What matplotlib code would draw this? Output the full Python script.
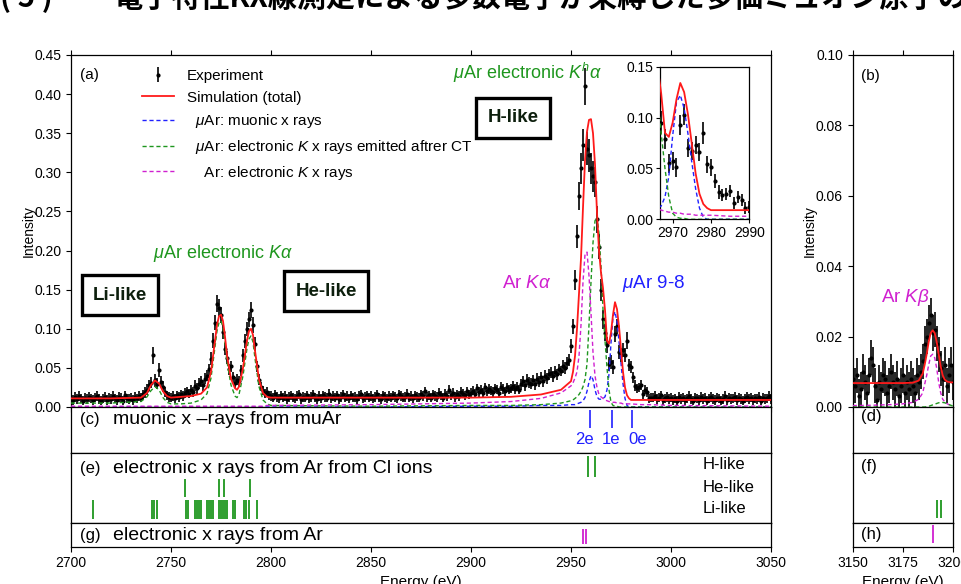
import numpy as np
import matplotlib
matplotlib.use("Agg")
import matplotlib.pyplot as plt

plt.rcParams['font.family'] = ['Liberation Sans', 'DejaVu Sans']
plt.rcParams['mathtext.fontset'] = 'custom'
plt.rcParams['mathtext.rm'] = 'Liberation Sans'
plt.rcParams['mathtext.it'] = 'Liberation Sans:italic'
plt.rcParams['mathtext.bf'] = 'Liberation Sans:bold'
plt.rcParams['axes.linewidth'] = 0.9

W, H = 962, 584
RED, BLUE, GREEN, MAG = '#ff1a1a', '#2020ff', '#1e961e', '#d020d0'

# ---- (a) measured spectrum, 1 eV bins from 2700 eV, intensity in 1e-3 ----
exp_a = [
    12, 9, 13, 10, 14, 11, 8, 12, 10, 13,
    11, 9, 12, 14, 10, 8, 11, 13, 9, 12,
    10, 14, 11, 9, 13, 12, 8, 15, 11, 10,
    12, 9, 13, 11, 14, 12, 16, 19, 22, 28,
    31, 66, 34, 30, 47, 32, 26, 19, 15, 13,
    12, 14, 11, 15, 13, 16, 14, 18, 20, 17,
    22, 19, 27, 24, 30, 33, 28, 36, 40, 48,
    62, 85, 108, 132, 127, 118, 96, 74, 63, 48,
    52, 38, 31, 35, 33, 47, 66, 84, 100, 112,
    124, 105, 80, 52, 35, 26, 21, 17, 19, 15,
    14, 12, 16, 13, 11, 15, 12, 14, 10, 13,
    15, 12, 11, 14, 16, 10, 13, 12, 15, 11,
    13, 16, 12, 10, 14, 11, 15, 13, 12, 17,
    11, 14, 12, 15, 10, 13, 16, 12, 14, 11,
    15, 12, 13, 10, 14, 16, 11, 13, 15, 12,
    14, 11, 13, 16, 12, 10, 15, 13, 11, 14,
    12, 15, 13, 11, 16, 14, 12, 13, 17, 12,
    14, 11, 15, 13, 12, 16, 14, 20, 13, 15,
    12, 16, 14, 13, 18, 15, 12, 17, 14, 22,
    15, 18, 13, 16, 14, 19, 17, 15, 20, 16,
    18, 21, 17, 24, 19, 22, 18, 25, 20, 23,
    21, 19, 24, 22, 18, 26, 23, 20, 25, 22,
    24, 27, 23, 26, 22, 29, 33, 28, 35, 31,
    30, 34, 29, 36, 32, 38, 33, 40, 37, 42,
    44, 39, 45, 42, 48, 46, 52, 50, 56, 60,
    78, 103, 162, 218, 270, 305, 335, 410, 330, 322,
    305, 295, 288, 240, 205, 150, 112, 95, 79, 55,
    57, 51, 93, 103, 70, 67, 73, 66, 85, 54,
    51, 38, 27, 24, 25, 28, 16, 22, 19, 11,
    12, 12, 14, 10, 12, 15, 9, 11, 13, 10,
    12, 9, 11, 8, 13, 10, 12, 9, 11, 14,
    10, 8, 12, 11, 9, 13, 10, 12, 8, 11,
    13, 10, 9, 12, 11, 8, 10, 14, 9, 12,
    10, 11, 13, 9, 12, 10, 8, 11, 13, 10,
    12, 9, 11, 10, 13, 8, 12, 10, 11, 14,
    10,
]
err_a = [
    6, 6, 6, 6, 6, 6, 6, 6, 6, 6,
    6, 6, 6, 6, 6, 6, 6, 6, 6, 6,
    6, 6, 6, 6, 6, 6, 6, 6, 6, 6,
    6, 6, 6, 6, 6, 6, 6, 7, 7, 7,
    7, 11, 8, 7, 9, 7, 7, 6, 6, 6,
    6, 6, 6, 6, 6, 6, 6, 6, 6, 6,
    6, 6, 7, 7, 7, 7, 7, 7, 7, 7,
    8, 9, 10, 11, 11, 10, 9, 8, 8, 7,
    7, 7, 7, 7, 7, 7, 8, 9, 9, 10,
    10, 10, 9, 7, 7, 6, 6, 6, 6, 6,
    6, 6, 6, 6, 6, 6, 6, 6, 6, 6,
    6, 6, 6, 6, 6, 6, 6, 6, 6, 6,
    6, 6, 6, 6, 6, 6, 6, 6, 6, 6,
    6, 6, 6, 6, 6, 6, 6, 6, 6, 6,
    6, 6, 6, 6, 6, 6, 6, 6, 6, 6,
    6, 6, 6, 6, 6, 6, 6, 6, 6, 6,
    6, 6, 6, 6, 6, 6, 6, 6, 6, 6,
    6, 6, 6, 6, 6, 6, 6, 6, 6, 6,
    6, 6, 6, 6, 6, 6, 6, 6, 6, 6,
    6, 6, 6, 6, 6, 6, 6, 6, 6, 6,
    6, 6, 6, 6, 6, 6, 6, 6, 6, 6,
    6, 6, 6, 6, 6, 6, 6, 6, 6, 6,
    6, 6, 6, 6, 6, 7, 7, 7, 7, 7,
    7, 7, 7, 7, 7, 7, 7, 7, 7, 7,
    7, 7, 7, 7, 7, 7, 8, 8, 8, 8,
    9, 10, 13, 15, 18, 20, 21, 24, 21, 21,
    20, 20, 19, 17, 16, 14, 12, 11, 10, 9,
    9, 9, 10, 10, 9, 9, 9, 9, 11, 8,
    8, 7, 7, 6, 6, 6, 6, 6, 6, 6,
    6, 6, 6, 6, 6, 6, 6, 6, 6, 6,
    6, 6, 6, 6, 6, 6, 6, 6, 6, 6,
    6, 6, 6, 6, 6, 6, 6, 6, 6, 6,
    6, 6, 6, 6, 6, 6, 6, 6, 6, 6,
    6, 6, 6, 6, 6, 6, 6, 6, 6, 6,
    6, 6, 6, 6, 6, 6, 6, 6, 6, 6,
    6,
]
energy_a = np.arange(2700, 2700 + len(exp_a))

# ---- (a) simulated curves, intensity in 1e-3 ----
curve_e = [2700, 2720, 2735, 2738, 2740, 2742, 2744, 2746, 2748, 2750,
           2755, 2760, 2765, 2768, 2770, 2772, 2773, 2774, 2775, 2776,
           2777, 2778, 2780, 2782, 2783, 2784, 2786, 2788, 2789, 2790,
           2791, 2792, 2794, 2796, 2798, 2800, 2850, 2900, 2920, 2935,
           2945, 2950, 2951, 2952, 2953, 2954, 2955, 2956, 2957, 2958,
           2959, 2960, 2961, 2962, 2963, 2964, 2965, 2966, 2967, 2968,
           2969, 2970, 2971, 2972, 2973, 2974, 2975, 2976, 2977, 2978,
           2979, 2980, 2985, 2990, 3000, 3050]
sim_total = [11, 11, 12, 18, 28, 34, 30, 20, 14, 12,
             13, 14, 17, 25, 45, 85, 105, 116, 118, 110,
             90, 66, 36, 24, 22, 26, 50, 85, 97, 100,
             92, 72, 35, 18, 13, 12, 12, 12, 13, 16,
             22, 33, 45, 65, 100, 145, 190, 255, 315, 352,
             367, 368, 350, 310, 248, 200, 172, 152, 124, 85,
             81, 95, 118, 134, 125, 103, 74, 45, 25, 15,
             11, 9, 9, 9, 9, 9]
sim_muonic = [0, 0, 0, 0, 0, 0, 0, 0, 0, 0,
              0, 0, 0, 0, 0, 0, 0, 0, 0, 0,
              0, 0, 0, 0, 0, 0, 0, 0, 0, 0,
              0, 0, 0, 0, 0, 0, 0, 1, 1, 2,
              2, 3, 3, 3, 4, 5, 6, 8, 12, 20,
              32, 40, 35, 22, 13, 10, 10, 11, 13, 22,
              42, 82, 115, 122, 109, 84, 56, 30, 11, 2,
              0, 0, 0, 0, 0, 0]
sim_ct = [5, 5, 7, 13, 21, 26, 22, 12, 6, 4,
          4, 5, 9, 17, 37, 77, 97, 108, 110, 102,
          82, 58, 28, 14, 12, 16, 40, 75, 87, 91,
          83, 62, 26, 9, 4, 2, 1, 2, 2, 3,
          5, 8, 9, 11, 13, 16, 20, 26, 35, 55,
          105, 160, 210, 238, 243, 222, 180, 125, 85, 50,
          22, 6, 2, 1, 1, 0, 0, 0, 0, 0,
          0, 0, 0, 0, 0, 0]
sim_ar = [1, 1, 1, 1, 1, 1, 1, 1, 1, 1,
          1, 1, 1, 1, 1, 1, 1, 1, 1, 1,
          1, 1, 1, 1, 1, 1, 1, 1, 1, 1,
          1, 1, 1, 1, 2, 2, 3, 5, 7, 11,
          18, 27, 31, 37, 45, 65, 105, 160, 195, 198,
          168, 120, 70, 40, 25, 16, 13, 11, 9, 8,
          7, 7, 6, 6, 5, 5, 5, 4, 4, 4,
          4, 4, 3, 3, 2, 1]

# ---- (b) measured spectrum, 1 eV bins from 3150 eV, intensity in 1e-3 ----
exp_b = [8, 6, 9, 3, 5, 10, 7, 4, 9, 14,
         12, 6, 2, 7, 5, 9, 8, 4, 6, 10,
         7, 5, 8, 3, 6, 9, 4, 7, 5, 8,
         6, 4, 9, 7, 10, 13, 18, 20, 24, 26,
         21, 22, 18, 15, 11, 8, 12, 6, 9, 12,
         7]
err_b = [5, 5, 5, 5, 5, 5, 5, 5, 5, 5,
         5, 5, 5, 5, 5, 5, 5, 5, 5, 5,
         5, 5, 5, 5, 5, 5, 5, 5, 5, 5,
         5, 5, 5, 5, 5, 5, 5, 5, 5, 5,
         5, 5, 5, 5, 5, 5, 5, 5, 5, 5,
         5]
energy_b = np.arange(3150, 3150 + len(exp_b))

curve_b_e = [3150, 3160, 3170, 3175, 3180, 3183, 3185, 3186, 3187, 3188,
             3189, 3190, 3191, 3192, 3193, 3194, 3195, 3196, 3197, 3198, 3199, 3200]
sim_b_total = [6.8, 6.8, 6.8, 6.8, 6.9, 7.5, 9.5, 12, 15, 18.5,
               21, 21.8, 21, 18.5, 15, 11.5, 9, 7.8, 7.3, 7.1, 7.0, 7.0]
sim_b_ar = [0.4, 0.5, 0.7, 0.9, 1.3, 2.2, 4, 6.5, 9, 12,
            14.5, 15, 14, 11, 7, 4, 2.2, 1.5, 1, 0.7, 0.6, 0.5]
sim_b_ct = [0, 0, 0, 0, 0, 0, 0, 0, 0.1, 0.2,
            0.4, 0.6, 0.8, 1.0, 1.2, 1.3, 1.3, 1.2, 1.0, 0.7, 0.5, 0.3]

# ---- transition line positions (eV) ----
muonic_lines = [2959.5, 2970.5, 2980.5]
muonic_labels = ['2e', '1e', '0e']
muonic_label_e = [2956.5, 2969.8, 2983.3]
h_like_lines = [2958.5, 2962.0]
he_like_lines = [2757.0, 2774.2, 2776.4, 2789.6]
li_like_lines = [2711.0, 2740.3, 2741.4, 2743.0, 2757.4, 2758.6, 2762.2, 2763.2,
                 2764.1, 2765.0, 2768.2, 2769.1, 2770.0, 2770.9, 2774.1, 2775.1,
                 2776.0, 2776.9, 2777.8, 2781.0, 2781.9, 2786.5, 2787.4, 2788.8,
                 2792.9]
ar_lines = [2956.0, 2957.5]
cl_lines_b = [3192.3, 3194.3]
ar_lines_b = [3190.0]


def box(x0, y0, x1, y1):
    return [x0 / W, 1 - y1 / H, (x1 - x0) / W, (y1 - y0) / H]


def fxy(x, y):
    return x / W, 1 - y / H


fig = plt.figure(figsize=(W / 100, H / 100), dpi=100)

LX0, LX1 = 71, 771
RX0, RX1 = 852.7, 952.7
ROWS = [(55, 407), (407, 453), (453, 522.7), (522.7, 546.7)]

ax_a = fig.add_axes(box(LX0, ROWS[0][0], LX1, ROWS[0][1]))
ax_c = fig.add_axes(box(LX0, ROWS[1][0], LX1, ROWS[1][1]))
ax_e = fig.add_axes(box(LX0, ROWS[2][0], LX1, ROWS[2][1]))
ax_g = fig.add_axes(box(LX0, ROWS[3][0], LX1, ROWS[3][1]))
ax_b = fig.add_axes(box(RX0, ROWS[0][0], RX1, ROWS[0][1]))
ax_d = fig.add_axes(box(RX0, ROWS[1][0], RX1, ROWS[1][1]))
ax_f = fig.add_axes(box(RX0, ROWS[2][0], RX1, ROWS[2][1]))
ax_h = fig.add_axes(box(RX0, ROWS[3][0], RX1, ROWS[3][1]))
ax_in = fig.add_axes(box(660, 66.7, 749.3, 219.3))

s = 1e-3
ce = np.array(curve_e)
DASH = (0, (3, 2))


def draw_spectrum(ax):
    eb = ax.errorbar(energy_a, np.array(exp_a) * s, yerr=np.array(err_a) * s,
                     fmt='o', ms=2.0, color='black', ecolor='black',
                     elinewidth=1.2, capsize=0, zorder=2)
    l_tot, = ax.plot(ce, np.array(sim_total) * s, color=RED, lw=1.3, zorder=4)
    l_mu, = ax.plot(ce, np.array(sim_muonic) * s, color=BLUE, lw=1.0,
                    ls=DASH, zorder=3)
    l_ct, = ax.plot(ce, np.array(sim_ct) * s, color=GREEN, lw=1.0,
                    ls=DASH, zorder=3)
    l_ar, = ax.plot(ce, np.array(sim_ar) * s, color=MAG, lw=1.0,
                    ls=DASH, zorder=3)
    return eb, l_tot, l_mu, l_ct, l_ar


handles = draw_spectrum(ax_a)
ax_a.set_xlim(2700, 3050)
ax_a.set_ylim(0, 0.45)
ax_a.set_yticks(np.arange(0, 0.451, 0.05))
ax_a.yaxis.set_major_formatter(matplotlib.ticker.FormatStrFormatter('%.2f'))
ax_a.set_xticks(np.arange(2700, 3051, 50))
ax_a.tick_params(axis='x', top=True, bottom=True, labelbottom=False,
                 direction='out', length=3.5)
ax_a.tick_params(axis='y', direction='out', length=3.5, labelsize=10)
ax_a.set_ylabel('Intensity', fontsize=10, labelpad=-1)

labels = ['Experiment', 'Simulation (total)', '  $\\mu$Ar: muonic x rays',
          '  $\\mu$Ar: electronic $K$ x rays emitted aftrer CT',
          '    Ar: electronic $K$ x rays']
ax_a.legend(handles, labels, loc='upper left', bbox_to_anchor=fxy(142, 69),
            bbox_transform=fig.transFigure, frameon=False, fontsize=11,
            handlelength=2.1, handletextpad=0.85, labelspacing=0.5,
            borderpad=0, borderaxespad=0)

# inset
draw_spectrum(ax_in)
ax_in.set_xlim(2966.7, 2990)
ax_in.set_ylim(0, 0.15)
ax_in.set_xticks([2970, 2980, 2990])
ax_in.set_yticks([0, 0.05, 0.10, 0.15])
ax_in.yaxis.set_major_formatter(matplotlib.ticker.FormatStrFormatter('%.2f'))
ax_in.tick_params(direction='out', length=3, labelsize=10, pad=2)

# annotations in (a)
fig.text(*fxy(80, 75), '(a)', fontsize=11, ha='left', va='center')
fig.text(*fxy(527, 73), '$\\mu$Ar electronic $K^h\\alpha$', fontsize=13,
         color=GREEN, ha='center', va='center')
fig.text(*fxy(223, 253), '$\\mu$Ar electronic $K\\alpha$', fontsize=13,
         color=GREEN, ha='center', va='center')
fig.text(*fxy(527, 283), 'Ar $K\\alpha$', fontsize=13.5, color=MAG,
         ha='center', va='center')
fig.text(*fxy(654, 283), '$\\mu$Ar 9-8', fontsize=13.5, color=BLUE,
         ha='center', va='center')
for txt, (x, y) in [('H-like', (513, 118)), ('Li-like', (120, 295)),
                    ('He-like', (326, 291))]:
    fig.text(*fxy(x, y), txt, fontsize=13.5, fontweight='bold', color='#0d1f0d',
             ha='center', va='center',
             bbox=dict(boxstyle='square,pad=0.6', fc='white', ec='black', lw=2.4))

# lower panels (c), (e), (g)
for ax in (ax_c, ax_e, ax_g):
    ax.set_xlim(2700, 3050)
    ax.set_ylim(0, 1)
    ax.set_yticks([])
    ax.set_xticks(np.arange(2700, 3051, 50))
    ax.tick_params(axis='x', direction='out', length=3.5, labelbottom=False)
ax_g.tick_params(axis='x', labelbottom=True, labelsize=10, pad=3)
ax_g.set_xlabel('Energy (eV)', fontsize=11, labelpad=4)

xt = ax_c.get_xaxis_transform()
ax_c.vlines(muonic_lines, 0.54, 0.93, color=BLUE, lw=1.2, transform=xt)
for e, lab in zip(muonic_label_e, muonic_labels):
    ax_c.text(e, 0.3, lab, color=BLUE, fontsize=12, ha='center', va='center',
              transform=xt)
ax_c.text(0.013, 0.73, '(c)', fontsize=12, va='center', transform=ax_c.transAxes)
ax_c.text(0.06, 0.73, 'muonic x \u2013rays from muAr', fontsize=14, va='center',
          transform=ax_c.transAxes)

xt = ax_e.get_xaxis_transform()
ax_e.vlines(h_like_lines, 0.66, 0.95, color=GREEN, lw=1.3, transform=xt)
ax_e.vlines(he_like_lines, 0.37, 0.63, color=GREEN, lw=1.3, transform=xt)
ax_e.vlines(li_like_lines, 0.05, 0.32, color=GREEN, lw=1.3, transform=xt)
ax_e.text(0.013, 0.78, '(e)', fontsize=12, va='center', transform=ax_e.transAxes)
ax_e.text(0.06, 0.78, 'electronic x rays from Ar from Cl ions', fontsize=14,
          va='center', transform=ax_e.transAxes)
for lab, y in [('H-like', 0.83), ('He-like', 0.51), ('Li-like', 0.2)]:
    ax_e.text(0.903, y, lab, fontsize=12, va='center', transform=ax_e.transAxes)

xt = ax_g.get_xaxis_transform()
ax_g.vlines(ar_lines, 0.11, 0.73, color=MAG, lw=1.3, transform=xt)
ax_g.text(0.013, 0.47, '(g)', fontsize=12, va='center', transform=ax_g.transAxes)
ax_g.text(0.06, 0.47, 'electronic x rays from Ar', fontsize=14, va='center',
          transform=ax_g.transAxes)

# right column (b), (d), (f), (h)
ax_b.errorbar(energy_b, np.array(exp_b) * s, yerr=np.array(err_b) * s, fmt='o',
              ms=2.0, color='black', ecolor='black', elinewidth=1.2, capsize=0,
              zorder=2)
ax_b.plot(curve_b_e, np.array(sim_b_total) * s, color=RED, lw=1.3, zorder=4)
ax_b.plot(curve_b_e, np.array(sim_b_ar) * s, color=MAG, lw=1.0, ls=DASH, zorder=3)
ax_b.plot(curve_b_e, np.array(sim_b_ct) * s, color=GREEN, lw=1.0, ls=DASH, zorder=3)
ax_b.set_xlim(3150, 3200)
ax_b.set_ylim(0, 0.10)
ax_b.set_yticks(np.arange(0, 0.101, 0.02))
ax_b.yaxis.set_major_formatter(matplotlib.ticker.FormatStrFormatter('%.2f'))
ax_b.set_xticks([3150, 3175, 3200])
ax_b.tick_params(axis='x', top=True, bottom=True, labelbottom=False,
                 direction='out', length=3.5)
ax_b.tick_params(axis='y', direction='out', length=3.5, labelsize=10)
ax_b.set_ylabel('Intensity', fontsize=10, labelpad=-1)
ax_b.text(0.08, 0.94, '(b)', fontsize=11, va='center', transform=ax_b.transAxes)
fig.text(*fxy(905, 298), 'Ar $K\\beta$', fontsize=13.5, color=MAG,
         ha='center', va='center')

for ax in (ax_d, ax_f, ax_h):
    ax.set_xlim(3150, 3200)
    ax.set_ylim(0, 1)
    ax.set_yticks([])
    ax.set_xticks([3150, 3175, 3200])
    ax.tick_params(axis='x', direction='out', length=3.5, labelbottom=False)
ax_h.tick_params(axis='x', labelbottom=True, labelsize=10, pad=3)
ax_h.set_xlabel('Energy (eV)', fontsize=11, labelpad=4)
ax_d.text(0.08, 0.79, '(d)', fontsize=12, va='center', transform=ax_d.transAxes)
ax_f.text(0.08, 0.81, '(f)', fontsize=12, va='center', transform=ax_f.transAxes)
ax_h.text(0.08, 0.5, '(h)', fontsize=12, va='center', transform=ax_h.transAxes)
ax_f.vlines(cl_lines_b, 0.07, 0.32, color=GREEN, lw=1.3,
            transform=ax_f.get_xaxis_transform())
ax_h.vlines(ar_lines_b, 0.15, 0.9, color=MAG, lw=1.3,
            transform=ax_h.get_xaxis_transform())

# slide title, mostly cut off by the top edge
jp = ['Noto Sans CJK JP', 'DejaVu Sans']
fig.text(0 / W, 1 - 7 / H, '( 5 )', fontsize=21, fontweight='bold',
         family=jp, va='baseline')
fig.text(113 / W, 1 - 7 / H,
         '電子特性KX線測定による多数電子が束縛した多価ミュオン原子の形成',
         fontsize=21, fontweight='bold', family=jp, va='baseline')

fig.savefig('out.png', dpi=100)
